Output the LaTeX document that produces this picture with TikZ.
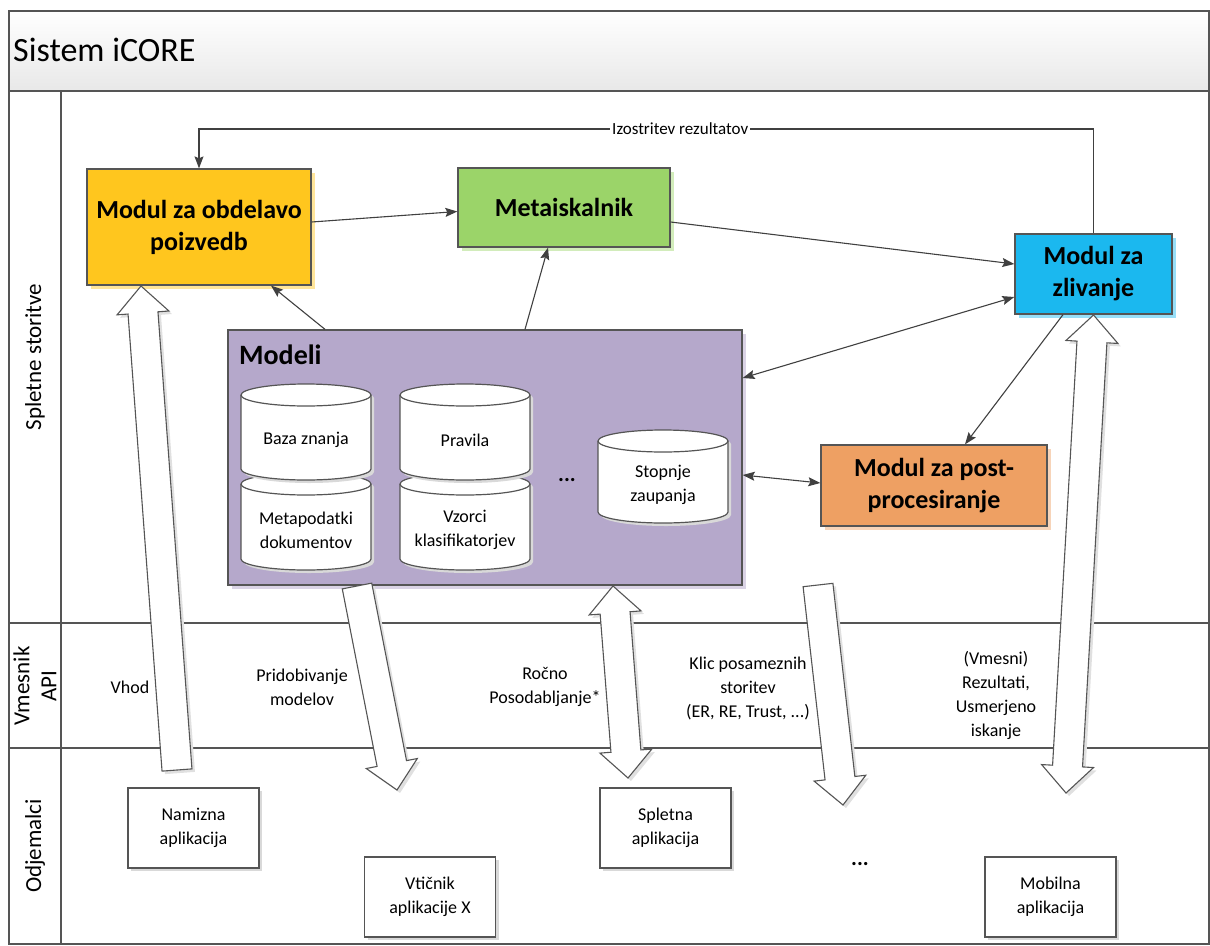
\documentclass[tikz,border=0pt]{standalone}
\usepackage{fontspec}
\setmainfont{Carlito}
\usetikzlibrary{arrows.meta,calc,shadows}
\definecolor{cObd}{HTML}{FFC61E}
\definecolor{cMeta}{HTML}{9BD469}
\definecolor{cZliv}{HTML}{1BB8EF}
\definecolor{cMod}{HTML}{B5A8CB}
\definecolor{cPost}{HTML}{EEA063}
\definecolor{lineC}{HTML}{404040}
\definecolor{frameC}{HTML}{555555}
\tikzset{
  smallf/.style={font=\fontsize{18}{24}\selectfont},
  mainbox/.style={draw=frameC, line width=1.3pt, align=center, inner sep=0pt,
    font=\fontsize{26}{32}\selectfont\bfseries},
  clientbox/.style={draw=frameC, line width=1.2pt, fill=white, align=center, smallf,
    minimum width=131pt, minimum height=80pt,
    general shadow={fill=black!15, shadow xshift=3pt, shadow yshift=-3pt}},
  lbl/.style={align=center, smallf, inner sep=0pt},
  lanelbl/.style={rotate=90, align=center, font=\fontsize{23}{27}\selectfont},
  conn/.style={draw=lineC, line width=1.1pt, -{Stealth[length=12pt,width=9pt,inset=2pt]}},
  dconn/.style={draw=lineC, line width=1.1pt, {Stealth[length=12pt,width=9pt,inset=2pt]}-{Stealth[length=12pt,width=9pt,inset=2pt]}},
  blockarr/.style={draw=frameC, line width=1.1pt, fill=white, line join=miter,
    general shadow={fill=black!12, shadow xshift=3pt, shadow yshift=-3pt}},
  cylstyle/.style={draw=frameC, line width=1.2pt, fill=white,
    general shadow={fill=black!15, shadow xshift=3pt, shadow yshift=-3pt}},
  cylline/.style={draw=frameC, line width=1.2pt},
  framel/.style={draw=frameC, line width=1.2pt}
}
\newcommand\singlearrow[2]{%
  \coordinate (hb) at ($(#2)!27pt!(#1)$);
  \draw[blockarr] ($(#1)!15pt!-90:(#2)$) -- ($(hb)!15pt!-90:(#2)$) -- ($(hb)!26pt!-90:(#2)$) -- (#2)
     -- ($(hb)!26pt!90:(#2)$) -- ($(hb)!15pt!90:(#2)$) -- ($(#1)!15pt!90:(#2)$) -- cycle;
}
\newcommand\doublearrow[2]{%
  \coordinate (hbA) at ($(#1)!27pt!(#2)$);
  \coordinate (hbB) at ($(#2)!27pt!(#1)$);
  \draw[blockarr] (#2) -- ($(hbB)!26pt!90:(#2)$) -- ($(hbB)!15pt!90:(#2)$) -- ($(hbA)!15pt!-90:(#1)$)
     -- ($(hbA)!26pt!-90:(#1)$) -- (#1) -- ($(hbA)!26pt!90:(#1)$) -- ($(hbA)!15pt!90:(#1)$)
     -- ($(hbB)!15pt!-90:(#2)$) -- ($(hbB)!26pt!-90:(#2)$) -- cycle;
}
\newcommand\dbcyl[4]{%
  \pgfmathsetmacro\cylrx{(#3-#1)/2}%
  \filldraw[cylstyle] (#1,#2+11) -- (#1,#4-11) arc[start angle=180,end angle=360,x radius=\cylrx pt,y radius=11pt]
     -- (#3,#2+11) arc[start angle=0,end angle=180,x radius=\cylrx pt,y radius=11pt] -- cycle;
  \draw[cylline] (#1,#2+11) arc[start angle=180,end angle=360,x radius=\cylrx pt,y radius=11pt];
}
\begin{document}
\begin{tikzpicture}[x=1pt,y=-1pt]
\useasboundingbox (0,0) rectangle (1210,945);
% frame and lanes
\shade[top color=white,bottom color=black!9] (9,11) rectangle (1209,91);
\draw[framel] (9,11) rectangle (1209,944);
\draw[framel] (9,91) -- (1209,91);
\draw[framel] (61,91) -- (61,944);
\draw[framel] (9,623) -- (1209,623);
\draw[framel] (9,748) -- (1209,748);
\node[anchor=west, inner sep=0pt, font=\fontsize{34}{40}\selectfont] (title) at (13,50) {Sistem iCORE};
\node[lanelbl] (lane1) at (35,357) {Spletne storitve};
\node[lanelbl] (lane2) at (35,686) {Vmesnik\\API};
\node[lanelbl] (lane3) at (35,846) {Odjemalci};

% main boxes
\node[mainbox, fill=cObd, minimum width=224pt, minimum height=116pt,
  general shadow={fill=cObd!45, shadow xshift=4pt, shadow yshift=-4pt}] (obd) at (199,227) {Modul za obdelavo\\poizvedb};
\node[mainbox, fill=cMeta, minimum width=212pt, minimum height=79pt,
  general shadow={fill=cMeta!45, shadow xshift=4pt, shadow yshift=-4pt}] (meta) at (564,207.5) {Metaiskalnik};
\node[mainbox, fill=cZliv, minimum width=157pt, minimum height=80pt,
  general shadow={fill=cZliv!45, shadow xshift=4pt, shadow yshift=-4pt}] (zliv) at (1093.5,274) {Modul za\\zlivanje};
\node[mainbox, fill=cPost, minimum width=226pt, minimum height=81pt,
  general shadow={fill=cPost!45, shadow xshift=4pt, shadow yshift=-4pt}] (post) at (934,485.5) {Modul za post-\\procesiranje};
\node[draw=frameC, line width=1.3pt, fill=cMod, minimum width=514pt, minimum height=255pt, inner sep=0pt,
  general shadow={fill=cMod!50, shadow xshift=4pt, shadow yshift=-4pt}] (modeli) at (485,457.5) {};
\node[anchor=base west, inner sep=0pt, font=\fontsize{28}{32}\selectfont\bfseries] (modlbl) at (239,364) {Modeli};

% cylinders
\dbcyl{241}{473}{371}{570}
\dbcyl{241}{384}{371}{480}
\dbcyl{400}{473}{530}{570}
\dbcyl{400}{384}{530}{480}
\dbcyl{598}{430}{728}{523}
\node[lbl] (baza) at (306,440) {Baza znanja};
\node[lbl] (metap) at (306,530) {Metapodatki\\dokumentov};
\node[lbl] (prav) at (465,440) {Pravila};
\node[lbl] (vzor) at (465,530) {Vzorci\\klasifikatorjev};
\node[lbl] (stop) at (663,485) {Stopnje\\zaupanja};
\node[font=\fontsize{22}{24}\selectfont\bfseries, inner sep=0pt] (dots1) at (567,480) {...};

% client boxes
\node[clientbox] (nam) at (193.5,828) {Namizna\\aplikacija};
\node[clientbox] (vti) at (430,897) {Vtičnik\\aplikacije X};
\node[clientbox] (spl) at (665.5,828) {Spletna\\aplikacija};
\node[clientbox] (mob) at (1050.5,897) {Mobilna\\aplikacija};
\node[font=\fontsize{22}{24}\selectfont\bfseries, inner sep=0pt] (dots2) at (860,864) {...};

% API labels
\node[lbl] (vhod) at (130,687) {Vhod};
\node[lbl] (prid) at (302,687) {Pridobivanje\\modelov};
\node[lbl] (rocno) at (545,687) {Ročno\\Posodabljanje*};
\node[lbl] (klic) at (748,688) {Klic posameznih\\storitev\\(ER, RE, Trust, ...)};
\node[lbl] (vmes) at (996,695) {(Vmesni)\\Rezultati,\\Usmerjeno\\iskanje};

% block arrows
\coordinate (a1t) at (177,770);
\coordinate (a1h) at (141,286);
\singlearrow{a1t}{a1h}
\coordinate (a2t) at (357,586);
\coordinate (a2h) at (397,790);
\singlearrow{a2t}{a2h}
\coordinate (a3a) at (613,586);
\coordinate (a3b) at (628,778);
\doublearrow{a3a}{a3b}
\coordinate (a4t) at (818,585);
\coordinate (a4h) at (843,805);
\singlearrow{a4t}{a4h}
\coordinate (a5a) at (1093.5,315);
\coordinate (a5b) at (1066,793);
\doublearrow{a5a}{a5b}

% connectors
\draw[conn] ([yshift=5pt]obd.east) -- ([yshift=-4pt]meta.west);
\draw[conn] ([yshift=-14.5pt]meta.east) -- ([yshift=10pt]zliv.west);
\draw[dconn] ([yshift=79.5pt]modeli.east) -- ([yshift=-23pt]zliv.west);
\draw[conn] ([xshift=-160pt]modeli.north) -- ([xshift=72pt]obd.south);
\draw[conn] ([xshift=40pt]modeli.north) -- ([xshift=-16pt]meta.south);
\draw[conn] ([xshift=-30.5pt]zliv.south) -- ([xshift=31pt]post.north);
\draw[dconn] ([yshift=-17.5pt]modeli.east) -- ([yshift=2.5pt]post.west);
\coordinate (izA) at (1093.5,129);
\coordinate (izB) at (199,129);
\draw[conn] (zliv.north) -- (izA) -- node[pos=0.462, fill=white, inner sep=2pt, font=\fontsize{17}{20}\selectfont] (izlbl) {Izostritev rezultatov} (izB) -- (obd.north);
\end{tikzpicture}
\end{document}
